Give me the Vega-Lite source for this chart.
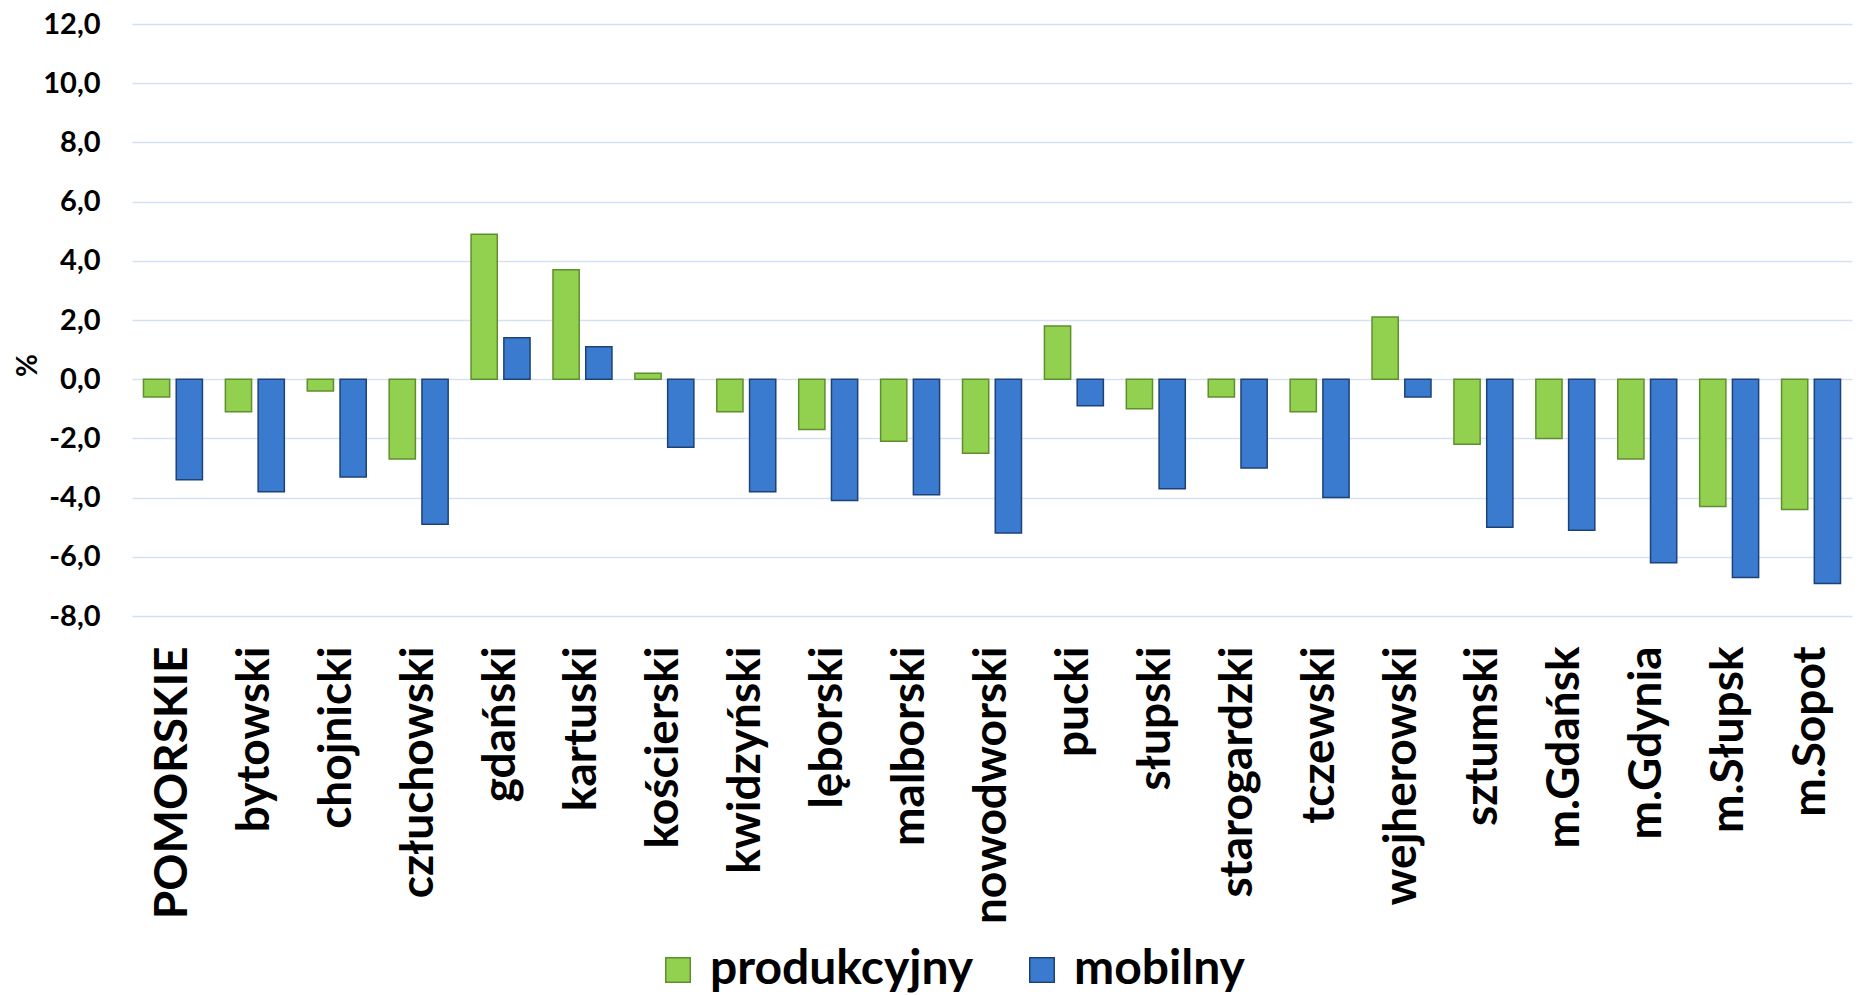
{
  "$schema": "https://vega.github.io/schema/vega-lite/v6.json",
  "width": 1720,
  "height": 592,
  "autosize": {"type": "none"},
  "padding": {"left": 132, "top": 24, "right": 9, "bottom": 379},
  "background": "white",
  "data": {
    "values": [
      {"powiat": "POMORSKIE", "typ": "produkcyjny", "v": -0.6},
      {"powiat": "POMORSKIE", "typ": "mobilny", "v": -3.4},
      {"powiat": "bytowski", "typ": "produkcyjny", "v": -1.1},
      {"powiat": "bytowski", "typ": "mobilny", "v": -3.8},
      {"powiat": "chojnicki", "typ": "produkcyjny", "v": -0.4},
      {"powiat": "chojnicki", "typ": "mobilny", "v": -3.3},
      {"powiat": "człuchowski", "typ": "produkcyjny", "v": -2.7},
      {"powiat": "człuchowski", "typ": "mobilny", "v": -4.9},
      {"powiat": "gdański", "typ": "produkcyjny", "v": 4.9},
      {"powiat": "gdański", "typ": "mobilny", "v": 1.4},
      {"powiat": "kartuski", "typ": "produkcyjny", "v": 3.7},
      {"powiat": "kartuski", "typ": "mobilny", "v": 1.1},
      {"powiat": "kościerski", "typ": "produkcyjny", "v": 0.2},
      {"powiat": "kościerski", "typ": "mobilny", "v": -2.3},
      {"powiat": "kwidzyński", "typ": "produkcyjny", "v": -1.1},
      {"powiat": "kwidzyński", "typ": "mobilny", "v": -3.8},
      {"powiat": "lęborski", "typ": "produkcyjny", "v": -1.7},
      {"powiat": "lęborski", "typ": "mobilny", "v": -4.1},
      {"powiat": "malborski", "typ": "produkcyjny", "v": -2.1},
      {"powiat": "malborski", "typ": "mobilny", "v": -3.9},
      {"powiat": "nowodworski", "typ": "produkcyjny", "v": -2.5},
      {"powiat": "nowodworski", "typ": "mobilny", "v": -5.2},
      {"powiat": "pucki", "typ": "produkcyjny", "v": 1.8},
      {"powiat": "pucki", "typ": "mobilny", "v": -0.9},
      {"powiat": "słupski", "typ": "produkcyjny", "v": -1.0},
      {"powiat": "słupski", "typ": "mobilny", "v": -3.7},
      {"powiat": "starogardzki", "typ": "produkcyjny", "v": -0.6},
      {"powiat": "starogardzki", "typ": "mobilny", "v": -3.0},
      {"powiat": "tczewski", "typ": "produkcyjny", "v": -1.1},
      {"powiat": "tczewski", "typ": "mobilny", "v": -4.0},
      {"powiat": "wejherowski", "typ": "produkcyjny", "v": 2.1},
      {"powiat": "wejherowski", "typ": "mobilny", "v": -0.6},
      {"powiat": "sztumski", "typ": "produkcyjny", "v": -2.2},
      {"powiat": "sztumski", "typ": "mobilny", "v": -5.0},
      {"powiat": "m.Gdańsk", "typ": "produkcyjny", "v": -2.0},
      {"powiat": "m.Gdańsk", "typ": "mobilny", "v": -5.1},
      {"powiat": "m.Gdynia", "typ": "produkcyjny", "v": -2.7},
      {"powiat": "m.Gdynia", "typ": "mobilny", "v": -6.2},
      {"powiat": "m.Słupsk", "typ": "produkcyjny", "v": -4.3},
      {"powiat": "m.Słupsk", "typ": "mobilny", "v": -6.7},
      {"powiat": "m.Sopot", "typ": "produkcyjny", "v": -4.4},
      {"powiat": "m.Sopot", "typ": "mobilny", "v": -6.9}
    ]
  },
  "mark": {"type": "bar", "strokeWidth": 1.5},
  "encoding": {
    "x": {
      "field": "powiat",
      "type": "nominal",
      "sort": null,
      "scale": {"paddingInner": 0.28, "paddingOuter": 0.14},
      "axis": {
        "title": null,
        "labelAngle": -90,
        "labelFont": "Lato",
        "labelFontWeight": "bold",
        "labelFontSize": 46,
        "labelColor": "black",
        "labelPadding": 30,
        "labelLimit": 0,
        "domain": false,
        "ticks": false,
        "grid": false
      }
    },
    "xOffset": {
      "field": "typ",
      "type": "nominal",
      "scale": {"domain": ["produkcyjny", "mobilny"], "paddingInner": 0.2}
    },
    "y": {
      "field": "v",
      "type": "quantitative",
      "scale": {"domain": [-8, 12], "nice": false, "zero": false},
      "axis": {
        "title": "%",
        "titleFont": "Lato",
        "titleFontWeight": "bold",
        "titleFontSize": 28,
        "titleColor": "black",
        "titleX": -104,
        "titleY": 341,
        "titleAngle": 270,
        "titleBaseline": "middle",
        "titleAlign": "center",
        "values": [-8, -6, -4, -2, 0, 2, 4, 6, 8, 10, 12],
        "labelExpr": "(datum.value < 0 ? '-' : '') + replace(format(abs(datum.value), '.1f'), '.', ',')",
        "labelFont": "Lato",
        "labelFontWeight": "bold",
        "labelFontSize": 29,
        "labelColor": "black",
        "labelPadding": 32,
        "domain": false,
        "ticks": false,
        "grid": true,
        "gridColor": "#D5E1F1",
        "gridWidth": 1.5
      }
    },
    "color": {
      "field": "typ",
      "type": "nominal",
      "scale": {"domain": ["produkcyjny", "mobilny"], "range": ["#92D050", "#3A7BD0"]},
      "legend": {
        "title": null,
        "orient": "none",
        "legendX": 522,
        "legendY": 922,
        "direction": "horizontal",
        "symbolType": "square",
        "symbolSize": 600,
        "symbolStrokeWidth": 1.5,
        "labelFont": "Lato",
        "labelFontWeight": "bold",
        "labelFontSize": 48,
        "labelColor": "black",
        "labelOffset": 8,
        "columnPadding": 44,
        "labelLimit": 0
      }
    },
    "stroke": {
      "field": "typ",
      "type": "nominal",
      "scale": {"domain": ["produkcyjny", "mobilny"], "range": ["#5F8F2C", "#1D4275"]},
      "legend": null
    }
  },
  "config": {"view": {"stroke": null}}
}
